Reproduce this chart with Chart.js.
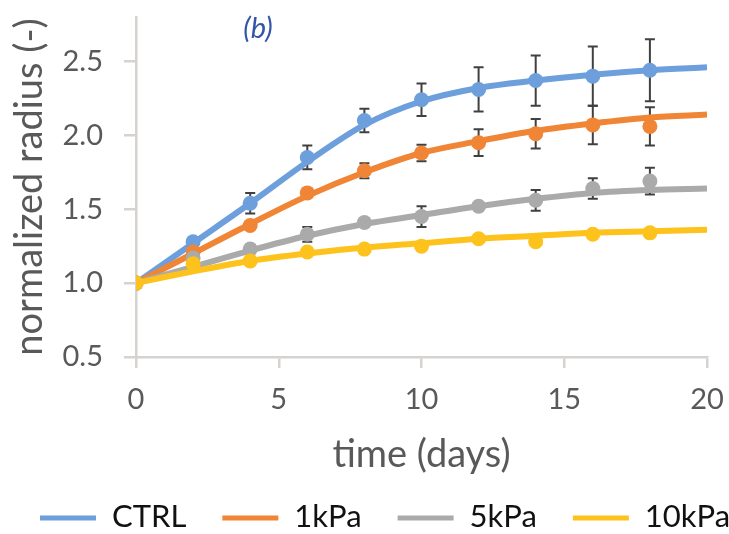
<!DOCTYPE html>
<html>
<head>
<meta charset="utf-8">
<script src="https://cdn.jsdelivr.net/npm/chart.js@4/dist/chart.umd.min.js"></script>
<style>
  html, body { margin: 0; padding: 0; background: #ffffff; }
</style>
</head>
<body>
<canvas id="grafica" width="729" height="534"></canvas>
<script>
// dias de medida y dias de la curva ajustada
var dias = [0, 2, 4, 6, 8, 10, 12, 14, 16, 18];
var diasAjuste = [0, 2, 4, 6, 8, 10, 12, 14, 16, 18, 20];

var series = ["CTRL", "1kPa", "5kPa", "10kPa"];
var colores = ["#6c9fdb", "#f08535", "#aaaaaa", "#fdc21c"];

// radio normalizado medido (media y desviacion)
var ctrl = [1.00, 1.28, 1.54, 1.85, 2.10, 2.24, 2.31, 2.37, 2.40, 2.44];
var ctrlErr = [0, 0.03, 0.07, 0.08, 0.08, 0.11, 0.15, 0.17, 0.20, 0.21];
var kpa1 = [1.00, 1.21, 1.39, 1.61, 1.76, 1.88, 1.95, 2.01, 2.07, 2.06];
var kpa1Err = [0, 0.02, 0.02, 0.03, 0.05, 0.055, 0.09, 0.10, 0.13, 0.13];
var kpa5 = [1.00, 1.17, 1.23, 1.33, 1.41, 1.45, 1.52, 1.56, 1.64, 1.69];
var kpa5Err = [0, 0.02, 0.03, 0.05, 0.03, 0.07, 0.02, 0.07, 0.07, 0.09];
var kpa10 = [1.00, 1.13, 1.15, 1.21, 1.23, 1.25, 1.30, 1.28, 1.33, 1.34];
var kpa10Err = [0, 0, 0, 0, 0, 0, 0, 0, 0, 0];

// curvas ajustadas
var ctrlAjuste = [1.00, 1.27, 1.54, 1.82, 2.07, 2.23, 2.32, 2.37, 2.41, 2.44, 2.46];
var kpa1Ajuste = [1.00, 1.20, 1.40, 1.59, 1.75, 1.88, 1.96, 2.03, 2.08, 2.12, 2.14];
var kpa5Ajuste = [1.00, 1.11, 1.22, 1.32, 1.40, 1.46, 1.52, 1.57, 1.61, 1.63, 1.64];
var kpa10Ajuste = [1.00, 1.08, 1.15, 1.20, 1.24, 1.27, 1.30, 1.32, 1.34, 1.35, 1.36];

var xTicks = [0, 5, 10, 15, 20];
var yTicks = [0.5, 1.0, 1.5, 2.0, 2.5];

var medidas = [ctrl, kpa1, kpa5, kpa10];
var errores = [ctrlErr, kpa1Err, kpa5Err, kpa10Err];
var ajustes = [ctrlAjuste, kpa1Ajuste, kpa5Ajuste, kpa10Ajuste];

var ejeColor = "#d6d2cf";
var textoColor = "#595959";
var fuente = "Lato, 'Open Sans', sans-serif";

Chart.defaults.font.family = fuente;

function puntos(xs, ys) {
    var out = [];
    for (var i = 0; i < xs.length; i++) {
        out.push({ x: xs[i], y: ys[i] });
    }
    return out;
}

var datasets = [];
for (var s = 0; s < series.length; s++) {
    // curva
    datasets.push({
        type: "line",
        label: series[s],
        data: puntos(diasAjuste, ajustes[s]),
        borderColor: colores[s],
        backgroundColor: colores[s],
        borderWidth: 6,
        pointRadius: 0,
        cubicInterpolationMode: "monotone",
        fill: false,
        order: 10 - s
    });
    // medidas
    datasets.push({
        type: "scatter",
        label: series[s] + " datos",
        data: puntos(dias, medidas[s]),
        errores: errores[s],
        backgroundColor: colores[s],
        borderWidth: 0,
        pointRadius: 7.5,
        pointHoverRadius: 7.5,
        order: 10 - s
    });
}

// barras de error, debajo de los puntos
var barrasError = {
    id: "barrasError",
    beforeDatasetsDraw: function (chart) {
        var ctx = chart.ctx;
        var xs = chart.scales.x;
        var ys = chart.scales.y;
        ctx.save();
        ctx.strokeStyle = "#404040";
        ctx.lineWidth = 2;
        chart.data.datasets.forEach(function (ds) {
            if (!ds.errores) return;
            ds.data.forEach(function (p, i) {
                var e = ds.errores[i];
                if (!e) return;
                var px = xs.getPixelForValue(p.x);
                var arriba = ys.getPixelForValue(p.y + e);
                var abajo = ys.getPixelForValue(p.y - e);
                ctx.beginPath();
                ctx.moveTo(px, arriba); ctx.lineTo(px, abajo);
                ctx.moveTo(px - 5, arriba); ctx.lineTo(px + 5, arriba);
                ctx.moveTo(px - 5, abajo); ctx.lineTo(px + 5, abajo);
                ctx.stroke();
            });
        });
        ctx.restore();
    }
};

// leyenda abajo (solo las curvas) y etiqueta del panel
var leyenda = {
    id: "leyenda",
    afterDraw: function (chart) {
        var ctx = chart.ctx;
        ctx.save();
        ctx.font = "31px " + fuente;
        ctx.textBaseline = "middle";
        ctx.textAlign = "left";
        var x = 40;
        var y = 518;
        chart.data.datasets.forEach(function (ds) {
            if (ds.type !== "line") return;
            ctx.fillStyle = ds.borderColor;
            ctx.fillRect(x, y - 2.5, 56, 5);
            x += 56 + 16;
            ctx.fillStyle = "#111111";
            ctx.fillText(ds.label, x, y - 1);
            x += ctx.measureText(ds.label).width + 36;
        });

        ctx.fillStyle = "#3354a8";
        ctx.font = "italic 29px " + fuente;
        ctx.textAlign = "center";
        ctx.fillText("(b)", 258, 29);
        ctx.restore();
    }
};

var miCanvas = document.getElementById("grafica").getContext("2d");

var chart = new Chart(miCanvas, {
    data: { datasets: datasets },
    plugins: [barrasError, leyenda],
    options: {
        responsive: false,
        animation: false,
        layout: { padding: { top: 17, right: 22, left: 0, bottom: 52 } },
        plugins: {
            tooltip: { enabled: false },
            legend: { display: false }
        },
        scales: {
            x: {
                type: "linear",
                min: 0,
                max: 20,
                afterBuildTicks: function (scale) {
                    scale.ticks = xTicks.map(function (v) { return { value: v }; });
                },
                afterFit: function (scale) {
                    scale.height = 125;
                    scale.paddingLeft = 0;
                    scale.paddingRight = 0;
                },
                border: { color: ejeColor, width: 2.5 },
                grid: { drawOnChartArea: false, color: ejeColor, lineWidth: 2.5, tickLength: 11 },
                ticks: { color: textoColor, font: { size: 29 }, padding: 14 },
                title: { display: true, text: "time (days)", color: textoColor, font: { size: 38 }, padding: { top: 0, bottom: 4 } }
            },
            y: {
                type: "linear",
                min: 0.5,
                max: 2.8,
                afterBuildTicks: function (scale) {
                    scale.ticks = yTicks.map(function (v) { return { value: v }; });
                },
                afterFit: function (scale) {
                    scale.width = 136;
                    scale.paddingTop = 0;
                    scale.paddingBottom = 0;
                },
                border: { color: ejeColor, width: 2.5 },
                grid: { drawOnChartArea: false, color: ejeColor, lineWidth: 2.5, tickLength: 12 },
                ticks: {
                    color: textoColor,
                    font: { size: 29 },
                    padding: 21,
                    callback: function (v) { return v.toFixed(1); }
                },
                title: { display: true, text: "normalized radius (-)", color: textoColor, font: { size: 38 }, padding: { top: 7, bottom: 0 } }
            }
        }
    }
});
</script>
</body>
</html>
